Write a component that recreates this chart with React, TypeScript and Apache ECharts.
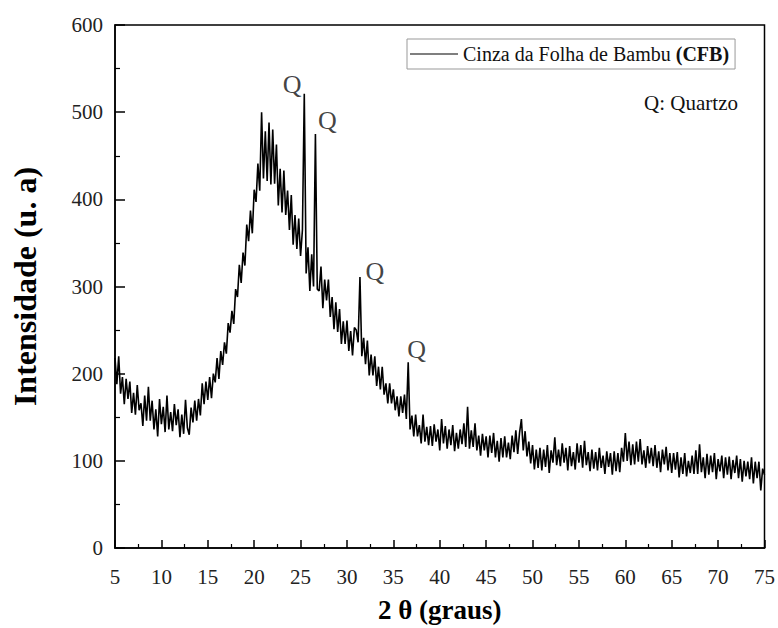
import React, { useEffect, useRef } from "react";
import * as echarts from "echarts";

const X_START = 5;
const X_STEP = 0.2;
const intensity: number[] = [
  218, 188, 220, 177, 196, 165, 194, 171, 191, 155,
  178, 153, 187, 158, 166, 140, 175, 146, 185, 146,
  169, 136, 159, 128, 171, 142, 162, 133, 175, 136,
  156, 134, 165, 141, 159, 127, 153, 131, 170, 138,
  130, 161, 144, 169, 146, 171, 152, 189, 165, 191,
  170, 196, 172, 200, 190, 218, 194, 226, 210, 236,
  223, 258, 247, 272, 257, 297, 288, 325, 304, 339,
  324, 371, 352, 387, 361, 411, 397, 441, 410, 500,
  424, 478, 421, 488, 417, 480, 418, 463, 393, 435,
  385, 433, 382, 410, 365, 405, 348, 382, 343, 378,
  335, 365, 521, 315, 345, 295, 337, 300, 475, 297,
  295, 323, 275, 308, 284, 308, 265, 288, 251, 282,
  248, 274, 234, 260, 234, 261, 226, 249, 221, 253,
  250, 236, 311, 220, 241, 211, 238, 198, 222, 198,
  220, 186, 208, 182, 208, 176, 189, 166, 189, 166,
  182, 158, 174, 151, 174, 155, 176, 148, 213, 136,
  152, 128, 153, 128, 141, 120, 153, 122, 139, 118,
  140, 117, 142, 122, 136, 112, 148, 120, 140, 114,
  136, 118, 141, 111, 132, 114, 136, 119, 143, 116,
  162, 114, 135, 116, 143, 112, 129, 106, 131, 112,
  128, 104, 129, 109, 132, 104, 123, 99, 126, 104,
  128, 104, 121, 102, 129, 110, 135, 108, 132, 148,
  112, 134, 105, 122, 97, 118, 90, 113, 92, 115,
  89, 113, 93, 118, 86, 112, 98, 127, 95, 113,
  94, 120, 98, 115, 89, 117, 94, 110, 90, 120,
  98, 118, 92, 123, 95, 110, 88, 113, 91, 110,
  89, 115, 92, 106, 85, 111, 93, 109, 84, 111,
  88, 109, 87, 115, 99, 132, 100, 122, 95, 119,
  96, 122, 99, 125, 96, 112, 92, 117, 97, 115,
  94, 118, 92, 111, 87, 113, 96, 116, 89, 109,
  86, 109, 90, 110, 81, 104, 85, 109, 82, 100,
  86, 106, 85, 112, 85, 119, 87, 104, 80, 108,
  84, 106, 87, 109, 79, 102, 88, 106, 80, 104,
  84, 105, 79, 101, 86, 106, 80, 102, 76, 100,
  82, 99, 79, 104, 74, 99, 80, 99, 66, 91,
  84,
];

// Quartz annotation label anchors (2θ, intensity)
const quartzLabels: [number, number][] = [
  [24.1, 532],
  [27.9, 490],
  [33.0, 317],
  [37.5, 228],
];

const xTicks = { min: 5, max: 75, interval: 5 };
const yTicks = { min: 0, max: 600, interval: 100 };

const SERIES_NAME = "Cinza da Folha de Bambu (CFB)";
const FONT = "'Liberation Serif', 'Times New Roman', serif";

export default function App() {
  const ref = useRef<HTMLDivElement>(null);

  useEffect(() => {
    if (!ref.current) return;
    const chart = echarts.init(ref.current, undefined, { renderer: "svg" });
    const points = intensity.map((v, i) => [
      +(X_START + i * X_STEP).toFixed(2),
      v,
    ]);

    chart.setOption({
      animation: false,
      backgroundColor: "#fff",
      textStyle: { fontFamily: FONT },
      grid: {
        left: 115,
        top: 25,
        right: 11,
        bottom: 79,
        show: true,
        borderColor: "#000",
        borderWidth: 1.5,
        backgroundColor: "transparent",
      },
      legend: {
        left: 407,
        top: 39,
        orient: "horizontal",
        data: [SERIES_NAME],
        icon: "rect",
        borderColor: "#999",
        borderWidth: 1,
        borderRadius: 0,
        padding: [5, 6, 5, 3],
        itemWidth: 48,
        itemHeight: 1,
        itemGap: 4,
        formatter: () => "{n|Cinza da Folha de Bambu }{b|(CFB)}",
        textStyle: {
          fontFamily: FONT,
          fontSize: 20,
          color: "#111",
          rich: {
            n: { fontFamily: FONT, fontSize: 20, color: "#111" },
            b: { fontFamily: FONT, fontSize: 20, fontWeight: "bold", color: "#111" },
          },
        },
      },
      xAxis: {
        type: "value",
        min: xTicks.min,
        max: xTicks.max,
        interval: xTicks.interval,
        name: "2 θ (graus)",
        nameLocation: "middle",
        nameGap: 48,
        nameTextStyle: {
          fontFamily: FONT,
          fontSize: 27,
          fontWeight: "bold",
          color: "#000",
        },
        axisLine: { show: true, onZero: false, lineStyle: { color: "#000", width: 1.5 } },
        axisTick: { show: true, inside: true, length: 8, lineStyle: { color: "#000", width: 1.5 } },
        minorTick: { show: true, splitNumber: 2, length: 4, lineStyle: { color: "#000", width: 1.2 } },
        axisLabel: {
          margin: 18,
          fontFamily: FONT,
          fontSize: 21,
          color: "#222",
        },
        splitLine: { show: false },
      },
      yAxis: {
        type: "value",
        min: yTicks.min,
        max: yTicks.max,
        interval: yTicks.interval,
        name: "Intensidade (u. a)",
        nameLocation: "middle",
        nameGap: 74,
        nameRotate: 90,
        nameTextStyle: {
          fontFamily: FONT,
          fontSize: 32,
          fontWeight: "bold",
          color: "#000",
        },
        axisLine: { show: true, lineStyle: { color: "#000", width: 1.5 } },
        axisTick: { show: true, inside: true, length: 10, lineStyle: { color: "#000", width: 1.5 } },
        minorTick: { show: true, splitNumber: 2, length: 5, lineStyle: { color: "#000", width: 1.2 } },
        axisLabel: {
          margin: 12,
          fontFamily: FONT,
          fontSize: 21,
          color: "#222",
        },
        splitLine: { show: false },
      },
      graphic: [
        {
          type: "text",
          right: 40,
          top: 92,
          style: {
            text: "Q: Quartzo",
            fontFamily: FONT,
            fontSize: 21,
            fill: "#111",
          },
        },
      ],
      series: [
        {
          name: SERIES_NAME,
          type: "line",
          data: points,
          symbol: "none",
          showSymbol: false,
          lineStyle: { color: "#000", width: 1.6 },
          itemStyle: { color: "#000" },
          z: 3,
        },
        {
          name: "Q",
          type: "scatter",
          data: quartzLabels,
          symbol: "circle",
          symbolSize: 1,
          itemStyle: { color: "rgba(0,0,0,0)" },
          silent: true,
          label: {
            show: true,
            position: "inside",
            formatter: "Q",
            fontFamily: FONT,
            fontSize: 26,
            color: "#111",
          },
          z: 4,
        },
      ],
    });

    return () => chart.dispose();
  }, []);

  return (
    <div
      ref={ref}
      style={{ position: "fixed", left: 0, top: 0, width: 778, height: 628 }}
    />
  );
}
